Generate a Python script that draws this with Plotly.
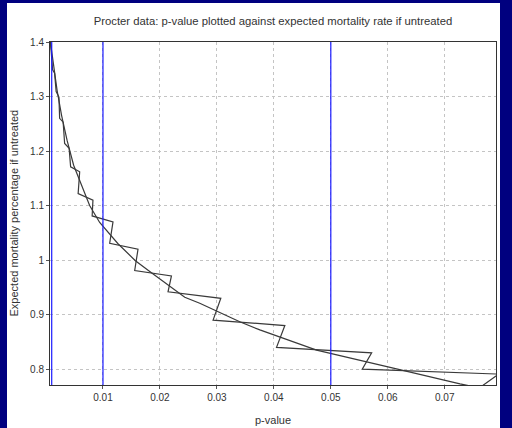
import plotly.graph_objects as go

# Smooth curve (p-value, expected mortality)
smooth_p = [0.00077, 0.00134, 0.00195, 0.00274, 0.00371, 0.00485, 0.00626, 0.00766, 0.00942,
            0.01264, 0.01569, 0.01821, 0.02436, 0.02699, 0.03402, 0.03754, 0.0475, 0.05336,
            0.06097, 0.07268, 0.07796]
smooth_m = [1.400, 1.357, 1.311, 1.265, 1.219, 1.174, 1.137, 1.100, 1.069,
            1.030, 0.999, 0.979, 0.932, 0.921, 0.887, 0.872, 0.835, 0.821,
            0.802, 0.773, 0.762]

# Exact (zig-zag) curve
exact_p = [0.00077, 0.00116, 0.00151, 0.00178, 0.00227, 0.00239, 0.00301, 0.00327, 0.00406,
           0.00432, 0.00591, 0.00564, 0.00824, 0.00810, 0.01176, 0.01118, 0.01615, 0.01557,
           0.02202, 0.02142, 0.03069, 0.02933, 0.04193, 0.04047, 0.05717, 0.05552, 0.07946,
           0.07533]
exact_m = [1.400, 1.349, 1.343, 1.309, 1.299, 1.260, 1.253, 1.214, 1.205,
           1.171, 1.162, 1.122, 1.110, 1.081, 1.070, 1.031, 1.020, 0.981,
           0.971, 0.942, 0.930, 0.890, 0.880, 0.840, 0.830, 0.800, 0.791,
           0.760]

sig_levels = [0.001, 0.01, 0.05]
x_ticks = [0.01, 0.02, 0.03, 0.04, 0.05, 0.06, 0.07]
y_ticks = [0.8, 0.9, 1.0, 1.1, 1.2, 1.3, 1.4]
y_tick_text = ["0.8", "0.9", "1", "1.1", "1.2", "1.3", "1.4"]

FONT = "Liberation Sans"
W, H = 512, 428
ML, MR, MT, MB = 50, 16, 42, 43
PW, PH = W - ML - MR, H - MT - MB

def px_x(p):
    return (p - ML) / PW

def px_y(p):
    return 1 - (p - MT) / PH

fig = go.Figure()
fig.add_trace(go.Scatter(x=smooth_p, y=smooth_m, mode="lines",
                         line=dict(color="#3a3a3a", width=1.2), showlegend=False))
fig.add_trace(go.Scatter(x=exact_p, y=exact_m, mode="lines",
                         line=dict(color="#3a3a3a", width=1.2), showlegend=False))

shapes = [
    # white panel on navy background
    dict(type="rect", xref="paper", yref="paper", layer="below",
         x0=px_x(7), x1=px_x(500), y0=px_y(3), y1=px_y(H + 5),
         fillcolor="white", line=dict(width=0)),
]
for s in sig_levels:
    shapes.append(dict(type="line", xref="x", yref="paper", x0=s, x1=s, y0=0, y1=1,
                       line=dict(color="#1a1aff", width=1.2)))

grid_style = dict(showgrid=True, gridcolor="#c4c4c4", griddash="3px,3px", gridwidth=1,
                  zeroline=False, showline=True, linecolor="#333333", linewidth=1, mirror=True,
                  ticks="outside", ticklen=3, tickcolor="#555555",
                  tickfont=dict(family=FONT, size=10, color="#333333"))

fig.update_layout(
    width=W, height=H,
    margin=dict(l=ML, r=MR, t=MT, b=MB),
    paper_bgcolor="#00007f",
    plot_bgcolor="rgba(0,0,0,0)",
    shapes=shapes,
    title=dict(text="Procter data: p-value plotted against expected mortality rate if untreated",
               x=0.5, xref="paper", y=1 - 21 / H, yref="container", yanchor="middle",
               font=dict(family=FONT, size=11.3, color="#333333")),
    xaxis=dict(range=[0.0007, 0.079], tickvals=x_ticks, ticktext=[f"{v:g}" for v in x_ticks],
               **grid_style),
    yaxis=dict(range=[0.771, 1.4], tickvals=y_ticks, ticktext=y_tick_text, **grid_style),
    annotations=[
        dict(text="Expected mortality percentage if untreated", textangle=-90,
             xref="paper", yref="paper", x=px_x(13), y=0.5, showarrow=False,
             xanchor="center", yanchor="middle",
             font=dict(family=FONT, size=11, color="#333333")),
        dict(text="p-value", xref="paper", yref="paper", x=0.5, y=px_y(420), showarrow=False,
             xanchor="center", yanchor="middle",
             font=dict(family=FONT, size=11, color="#333333")),
    ],
)

fig.write_html("out.html", config={"displayModeBar": False},
               post_script="document.body.style.margin='0';document.body.style.overflow='hidden';")
